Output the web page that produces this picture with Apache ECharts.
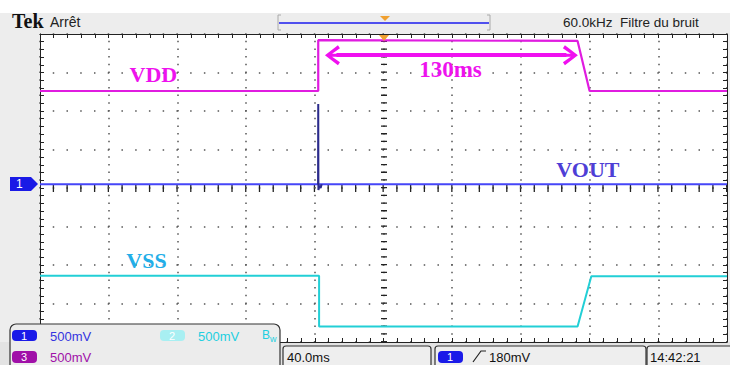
<!DOCTYPE html>
<html><head><meta charset="utf-8">
<script src="https://cdn.jsdelivr.net/npm/echarts@6/dist/echarts.min.js"></script>
<style>html,body{margin:0;padding:0;background:#fff}#c{width:730px;height:365px}</style>
</head><body><div id="c"></div>
<script>
// ---- data (x in ms, 40 ms/div, trigger at 0; y in divisions) ----
const vddX = [-200, -38, -38, 113, 120, 200];
const vddY = [2.52, 2.52, 3.84, 3.82, 2.52, 2.52];
const voutX = [-200, -38.1, 200];
const voutY = [0.1, 0.1, 0.1];
const spikeX = [-38.1, -38.0, -37.9, -37.3, -36.6, -36.0];
const spikeY = [0.1, 2.18, -0.05, 0.06, 0.0, 0.1];
const vssX = [-200, -37.5, -37.5, 113, 121, 200];
const vssY = [-2.28, -2.28, -3.60, -3.60, -2.29, -2.29];
const labelText = ['VDD', 'VOUT', 'VSS', '130ms'];
const labelX = [-134, 119, -138, 39];
const labelY = [2.94, 0.47, -1.88, 3.09];
const arrowX = [-27.4, 106.5];
const arrowY = 3.45;

const pts = (xs, ys) => xs.map((x, i) => [x, ys[i]]);
const labelColors = ['#ee12ee', '#4e3ed6', '#22aee8', '#ee12ee'];
const chevron = 'path://M10,0 L20,13 L17,15 L10,5 L3,15 L0,13 Z M8.5,2 L11.5,2 L11.5,23 L8.5,23 Z';

const tickCol = '#222';
function borderAxis(pos, isX) {
  return {
    type: 'value', min: isX ? -200 : -4, max: isX ? 200 : 4, interval: isX ? 40 : 1,
    position: pos,
    axisLine: {show: true, onZero: false, lineStyle: {color: tickCol, width: 1}},
    axisTick: {show: true, inside: true, length: 4, lineStyle: {color: tickCol}},
    minorTick: {show: true, splitNumber: 5, length: 4, lineStyle: {color: tickCol}},
    axisLabel: {show: false},
    splitLine: {show: false}
  };
}
const xAxes = [
  Object.assign(borderAxis('bottom', true), {splitLine: {show: true, lineStyle: {color: '#555', width: 1.5, type: [1.5, 6.2], dashOffset: 0.75}}}),
  borderAxis('top', true),
  {type: 'value', min: -200, max: 200, interval: 200, position: 'bottom',
   axisLine: {show: false}, axisTick: {show: false}, axisLabel: {show: false},
   splitLine: {show: true, showMinLine: false, showMaxLine: false,
     lineStyle: {color: '#222', width: 6, type: [1.3, 6.4], dashOffset: 0.65}}}
];
const yAxes = [
  Object.assign(borderAxis('left', false), {splitLine: {show: true, lineStyle: {color: '#555', width: 1.5, type: [1.5, 12.24], dashOffset: 0.75}}}),
  borderAxis('right', false),
  {type: 'value', min: -4, max: 4, interval: 4, position: 'left',
   axisLine: {show: false}, axisTick: {show: false}, axisLabel: {show: false},
   splitLine: {show: true, showMinLine: false, showMaxLine: false,
     lineStyle: {color: '#222', width: 7, type: [1.3, 12.44], dashOffset: 0.65}}}
];

const lineSeries = (name, data, color, w) => ({
  name, type: 'line', data, xAxisIndex: 0, yAxisIndex: 0, showSymbol: false, symbol: 'none',
  lineStyle: {color, width: w}, silent: true, z: 3
});

const T = (text, x, y, size, fill, extra) => Object.assign({
  type: 'text', x, y, z: 101, silent: true,
  style: Object.assign({text, fill, fontSize: size, fontFamily: 'Liberation Sans, Arial, sans-serif',
    align: 'left', verticalAlign: 'middle', textAlign: 'left', textVerticalAlign: 'middle'}, extra || {})
});
const R = (x, y, w, h, r, fill, stroke, z) => ({
  type: 'rect', z: z === undefined ? 100 : z, silent: true, shape: {x, y, width: w, height: h, r},
  style: {fill, stroke: stroke || null, lineWidth: 1.2}
});

const option = {
  animation: false,
  backgroundColor: '#ffffff',
  grid: {left: 40, top: 34, width: 687, height: 308, show: false},
  xAxis: xAxes,
  yAxis: yAxes,
  series: [
    Object.assign(lineSeries('VDD', pts(vddX, vddY), '#e01ce0', 2.2), {
      markLine: {
        silent: true, animation: false, symbol: [chevron, chevron], symbolSize: [20, 23],
        label: {show: false},
        lineStyle: {color: '#f010f0', width: 4, type: 'solid'},
        itemStyle: {color: '#f010f0'},
        data: [[{coord: [arrowX[0], arrowY]}, {coord: [arrowX[1], arrowY]}]]
      },
      markPoint: {
        silent: true, animation: false, symbol: 'rect', symbolSize: 1,
        itemStyle: {color: 'rgba(0,0,0,0)'},
        data: labelText.map((t, i) => ({
          coord: [labelX[i], labelY[i]], value: t,
          label: {show: true, position: 'inside', formatter: t, color: labelColors[i],
            fontFamily: 'Liberation Serif, Times New Roman, serif', fontWeight: 'bold',
            fontSize: i === 3 ? 23 : 22}
        }))
      }
    }),
    lineSeries('VOUT', pts(voutX, voutY), '#4646f8', 2),
    lineSeries('VOUT spike', pts(spikeX, spikeY), '#2b2b8c', 2),
    lineSeries('VSS', pts(vssX, vssY), '#22cfd6', 2)
  ],
  graphic: {elements: [
    R(0, 13, 730, 21, 0, '#ededed', null, -1),
    R(0, 13, 40, 352, 0, '#ededed', null, -1),
    R(727, 13, 3, 352, 0, '#ededed', null, -1),
    R(0, 342, 730, 23, 0, '#e3e3e3', null, -1),
    T('Tek', 12, 21, 20, '#111', {fontFamily: 'Liberation Serif, serif', fontWeight: 'bold'}),
    T('Arrêt', 50, 22, 14, '#222'),
    {type: 'polyline', z: 100, silent: true, shape: {points: [[281, 15], [278, 15], [278, 30], [281, 30]]}, style: {stroke: '#aaa', fill: null, lineWidth: 1}},
    {type: 'polyline', z: 100, silent: true, shape: {points: [[487, 15], [490, 15], [490, 30], [487, 30]]}, style: {stroke: '#aaa', fill: null, lineWidth: 1}},
    {type: 'line', z: 100, silent: true, shape: {x1: 279, y1: 23, x2: 489, y2: 23}, style: {stroke: '#5050ee', lineWidth: 2}},
    {type: 'polygon', z: 101, silent: true, shape: {points: [[380, 16], [390, 16], [385, 21]]}, style: {fill: '#f0a030'}},
    T('60.0kHz  Filtre du bruit', 563, 22, 13.5, '#222'),
    {type: 'polygon', z: 101, silent: true, shape: {points: [[379, 35], [389, 35], [384, 41]]}, style: {fill: '#f0a030'}},
    {type: 'polygon', z: 101, silent: true, shape: {points: [[10, 177], [31, 177], [38, 184], [31, 191], [10, 191]]}, style: {fill: '#1a1ae6'}},
    T('1', 16, 184, 12, '#fff', {z: 102}),
    R(10, 324, 270, 50, 6, '#ececec', '#333', 100),
    R(12, 330, 25, 11, 4, '#1a1ae8', null, 101),
    T('1', 21, 335.5, 11, '#fff', {}),
    T('500mV', 50, 336.5, 13, '#3434e0'),
    R(160, 330, 25, 11, 4, '#a8eff2', null, 101),
    T('2', 169, 335.5, 11, '#fff'),
    T('500mV', 198, 336.5, 13, '#22cfe0'),
    T('B', 262, 335, 12, '#22cfe0'),
    T('w', 270, 339, 9, '#22cfe0'),
    R(12, 351, 25, 12, 4, '#a010a8', null, 101),
    T('3', 21, 357, 11, '#fff'),
    T('500mV', 50, 357, 13, '#a010a8'),
    R(283, 346, 148, 25, 3, '#eeeeee', '#333', 100),
    T('40.0ms', 287, 357.5, 13, '#111'),
    R(435, 346, 211, 25, 3, '#eeeeee', '#333', 100),
    R(438, 351, 25, 12, 4, '#1a1ae8', null, 101),
    T('1', 447, 357, 11, '#fff'),
    {type: 'polyline', z: 101, silent: true, shape: {points: [[473, 362], [481, 351], [486, 351]]}, style: {stroke: '#222', fill: null, lineWidth: 1.2}},
    T('180mV', 489, 357.5, 13, '#111'),
    R(647, 346, 90, 25, 3, '#eeeeee', '#333', 100),
    T('14:42:21', 650, 357.5, 13, '#111')
  ]}
};
const chart = echarts.init(document.getElementById('c'), null, {renderer: 'svg'});
chart.setOption(option);
</script>
</body></html>
